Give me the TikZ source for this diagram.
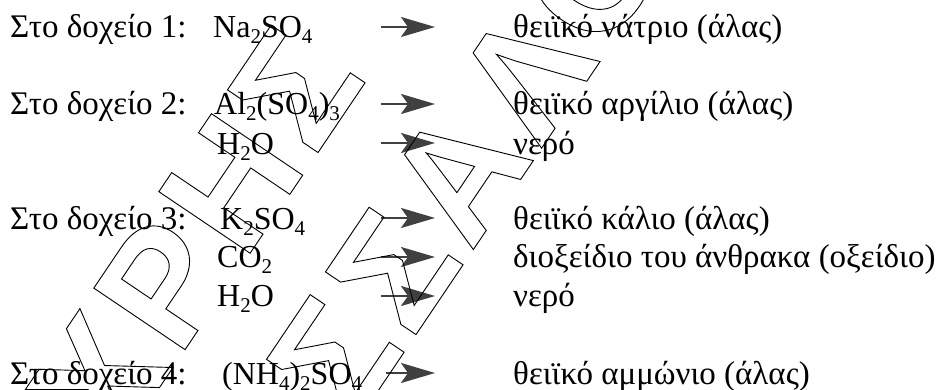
\documentclass[tikz,border=0pt]{standalone}
\usepackage{fontspec}
\setmainfont{Liberation Serif}
\newfontfamily\wmfont{Liberation Sans}[LetterSpace=6]
\usetikzlibrary{arrows.meta,positioning}

\newcommand\chsub[1]{\raisebox{-0.35ex}{\fontsize{21pt}{21pt}\selectfont #1}}
\newcommand\outlined[1]{\special{pdf:literal direct 0.9 w 1 Tr}#1\special{pdf:literal direct 0 Tr}}

\tikzset{
  txt/.style={anchor=base west,inner sep=0pt,font=\fontsize{33pt}{38pt}\selectfont},
  chem/.style={anchor=base west,inner sep=0pt,font=\fontsize{32pt}{38pt}\selectfont},
  conv/.style={-{Stealth[length=34pt,width=20pt,inset=7pt]},line width=2.2pt,draw=black!75},
  wm/.style={anchor=base west,rotate=56,inner sep=0pt,font=\wmfont\bfseries\fontsize{160pt}{160pt}\selectfont}
}

\begin{document}
\begin{tikzpicture}[x=1pt,y=1pt]
\useasboundingbox (0,0) rectangle (940,390);

% Containers
\node[txt] (d1) at (10,352) {Στο δοχείο 1:};
\node[txt] (d2) at (10,275) {Στο δοχείο 2:};
\node[txt] (d3) at (10,160) {Στο δοχείο 3:};
\node[txt] (d4) at (10,5) {Στο δοχείο 4:};

% Formulas
\node[chem] (f1) at (213,352) {Na\chsub{2}SO\chsub{4}};
\node[chem] (f2) at (214,275) {Al\chsub{2}(SO\chsub{4})\chsub{3}};
\node[chem] (f3) at (217,235) {H\chsub{2}O};
\node[chem] (f4) at (220,160) {K\chsub{2}SO\chsub{4}};
\node[chem] (f5) at (217,122) {CO\chsub{2}};
\node[chem] (f6) at (217,83) {H\chsub{2}O};
\node[chem] (f7) at (222,5) {(NH\chsub{4})\chsub{2}SO\chsub{4}};

% Names
\node[txt] (n1) at (513,352) {θειϊκό νάτριο (άλας)};
\node[txt] (n2) at (513,275) {θειϊκό αργίλιο (άλας)};
\node[txt] (n3) at (513,235) {νερό};
\node[txt] (n4) at (513,160) {θειϊκό κάλιο (άλας)};
\node[txt] (n5) at (513,122) {διοξείδιο του άνθρακα (οξείδιο)};
\node[txt] (n6) at (513,83) {νερό};
\node[txt] (n7) at (513,5) {θειϊκό αμμώνιο (άλας)};

% Arrows
\coordinate (s1) at (381,363); \coordinate (e1) at (435,363);
\coordinate (s2) at (381,286); \coordinate (e2) at (435,286);
\coordinate (s3) at (381,247); \coordinate (e3) at (435,247);
\coordinate (s4) at (381,172); \coordinate (e4) at (435,172);
\coordinate (s5) at (381,133); \coordinate (e5) at (435,133);
\coordinate (s6) at (381,94); \coordinate (e6) at (435,94);
\coordinate (s7) at (386,17); \coordinate (e7) at (435,17);
\draw[conv] (s1) -- (e1);
\draw[conv] (s2) -- (e2);
\draw[conv] (s3) -- (e3);
\draw[conv] (s4) -- (e4);
\draw[conv] (s5) -- (e5);
\draw[conv] (s6) -- (e6);
\draw[conv] (s7) -- (e7);

% Watermark
\begin{scope}
\clip (0,0) rectangle (940,390);
\node[wm] (wm1) at (114,-65) {\outlined{ΧΡΗΣ}};
\node[wm] (wm2) at (353,-38) {\outlined{ΣΣΑΛΟ}};
\end{scope}
\end{tikzpicture}
\end{document}
